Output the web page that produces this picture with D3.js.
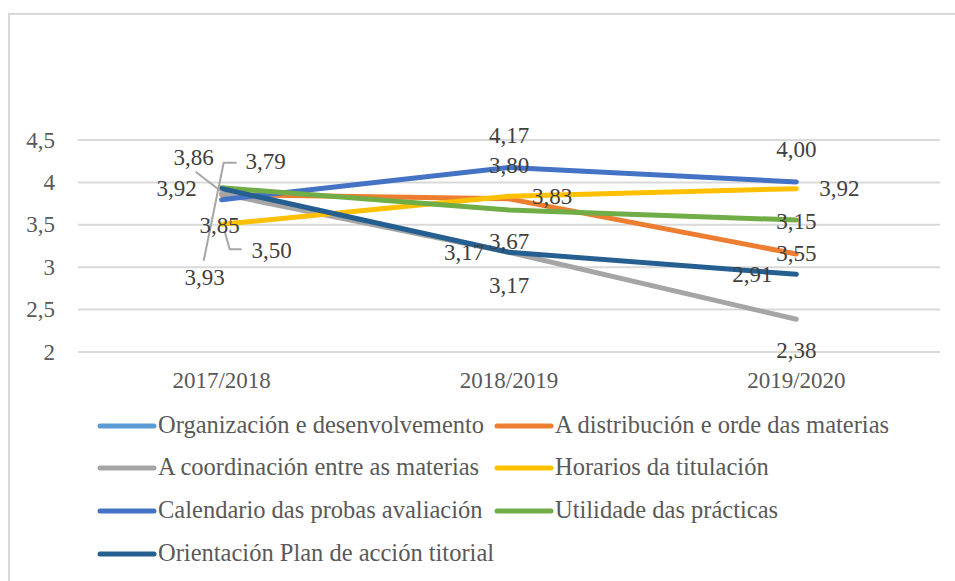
<!DOCTYPE html>
<html>
<head>
<meta charset="utf-8">
<script src="https://cdn.jsdelivr.net/npm/d3@7"></script>
<style>
  html, body { margin: 0; padding: 0; background: #fff; }
</style>
</head>
<body>
<svg id="chart" width="955" height="581"></svg>
<script>
// ---- data ----
const years = ["2017/2018", "2018/2019", "2019/2020"];
const seriesNames = [
  "Organización e desenvolvemento",
  "A distribución e orde das materias",
  "A coordinación entre as materias",
  "Horarios da titulación",
  "Calendario das probas avaliación",
  "Utilidade das prácticas",
  "Orientación Plan de acción titorial"
];
const organizacion   = [null, null, null];
const distribucion   = [3.85, 3.80, 3.15];
const coordinacion   = [3.86, 3.17, 2.38];
const horarios       = [3.50, 3.83, 3.92];
const calendario     = [3.79, 4.17, 4.00];
const utilidade      = [3.93, 3.67, 3.55];
const orientacion    = [3.92, 3.17, 2.91];
const yTicks = [2, 2.5, 3, 3.5, 4, 4.5];

// ---- styles / placement (not data) ----
const FONT = "'Liberation Serif'";
const colors = ["#5B9BD5", "#ED7D31", "#A5A5A5", "#FFC000", "#4472C4", "#70AD47", "#255E91"];
const seriesValues = [organizacion, distribucion, coordinacion, horarios, calendario, utilidade, orientacion];
const labelOffsets = [
  [null, null, null],
  [[-2, 31], [0, -33], [0, -33]],
  [[-28, -36], [0, 33], [0, 31]],
  [[50, 26], [43, 0], [43, 0]],
  [[44, -38], [0, -32], [0, -32]],
  [[-17, 90], [0, 32], [0, 33]],
  [[-45, 0], [-45, 0], [-44, 0]]
];
const leaders = [
  {s: 2, i: 0, pts: [[-26, -22], [0, -2]]},
  {s: 4, i: 0, pts: [[15, -37], [2, -37], [-18, 61]]},
  {s: 3, i: 0, pts: [[3, 7], [8, 25], [20, 25]]}
];

const svg = d3.select("#chart");

svg.append("path")
  .attr("d", "M9,590 L9,14 L970,14")
  .attr("fill", "none").attr("stroke", "#d9d9d9").attr("stroke-width", 2);

const plot = {left: 78, right: 940, top: 139.5, bottom: 351.5};
const x = d3.scaleBand().domain(years).range([plot.left, plot.right]);
const y = d3.scaleLinear().domain([2, 4.5]).range([plot.bottom, plot.top]);
const fmt = v => d3.format(".2f")(v).replace(".", ",");
const fmtTick = v => String(v).replace(".", ",");
const cx = yr => x(yr) + x.bandwidth() / 2;

const yAxis = d3.axisLeft(y).tickValues(yTicks).tickSize(-(plot.right - plot.left)).tickFormat(fmtTick).tickPadding(23);
const gy = svg.append("g").attr("transform", `translate(${plot.left},0)`).call(yAxis);
gy.attr("font-family", null).attr("font-size", null);
gy.select(".domain").remove();
gy.selectAll(".tick line").attr("stroke", "#d9d9d9").attr("stroke-width", 2);
gy.selectAll(".tick text").attr("fill", "#595959").attr("dy", "0.33em")
  .style("font-size", "23px").style("font-family", FONT);

const xAxis = d3.axisBottom(x).tickSize(0).tickPadding(0);
const gx = svg.append("g").attr("transform", `translate(0,${plot.bottom})`).call(xAxis);
gx.attr("font-family", null).attr("font-size", null);
gx.select(".domain").remove();
gx.selectAll(".tick text").attr("fill", "#595959").attr("y", 29).attr("dy", "0.33em")
  .style("font-size", "23px").style("font-family", FONT);

const line = d3.line()
  .defined(d => d.v != null)
  .x(d => cx(d.yr))
  .y(d => y(d.v));

seriesValues.forEach((vals, s) => {
  const pts = vals.map((v, i) => ({yr: years[i], v}));
  svg.append("path")
    .datum(pts)
    .attr("d", line)
    .attr("fill", "none")
    .attr("stroke", colors[s])
    .attr("stroke-width", 5)
    .attr("stroke-linecap", "round")
    .attr("stroke-linejoin", "round");
});

leaders.forEach(l => {
  const px = cx(years[l.i]), py = y(seriesValues[l.s][l.i]);
  svg.append("polyline")
    .attr("points", l.pts.map(p => [px + p[0], py + p[1]].join(",")).join(" "))
    .attr("fill", "none").attr("stroke", "#a6a6a6").attr("stroke-width", 2);
});

seriesValues.forEach((vals, s) => {
  vals.forEach((v, i) => {
    if (v == null) return;
    const off = labelOffsets[s][i];
    svg.append("text")
      .attr("x", cx(years[i]) + off[0])
      .attr("y", y(v) + off[1])
      .attr("dy", "0.33em")
      .attr("text-anchor", "middle")
      .attr("fill", "#404040")
      .style("font-size", "23px").style("font-family", FONT)
      .text(fmt(v));
  });
});

const legendCols = [100, 497];
const legendRows = [426, 468, 511, 554];
seriesNames.forEach((name, s) => {
  const col = s % 2, row = Math.floor(s / 2);
  const g = svg.append("g").attr("transform", `translate(${legendCols[col]},${legendRows[row]})`);
  g.append("line").attr("x1", 0).attr("x2", 54).attr("y1", 0).attr("y2", 0)
    .attr("stroke", colors[s]).attr("stroke-width", 5).attr("stroke-linecap", "round");
  g.append("text").attr("x", 58).attr("y", 0).attr("dy", "0.3em")
    .attr("fill", "#595959").style("font-size", "24.5px").style("font-family", FONT).text(name);
});
</script>
</body>
</html>
